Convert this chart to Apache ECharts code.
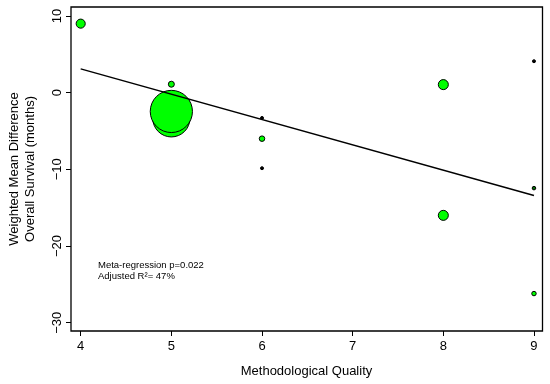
<!DOCTYPE html>
<html>
<head>
<meta charset="utf-8">
<script src="https://cdn.jsdelivr.net/npm/echarts@6/dist/echarts.min.js"></script>
<style>html,body{margin:0;padding:0;background:#fff;}#c{width:550px;height:384px;}</style>
</head>
<body>
<div id="c"></div>
<script>
// Data
const quality = [4, 5, 5, 5, 5, 6, 6, 6, 8, 8, 9, 9, 9];
const wmd = [9.0, 1.1, -0.65, -3.35, -2.45, -3.3, -6.0, -9.85, 1.05, -16.0, 4.1, -12.45, -26.2];
const weights = [2.3, 1.0, 0.7, 38.4, 49.5, 0.25, 0.85, 0.25, 2.8, 2.8, 0.25, 0.35, 0.55];
const fitX = [4, 9];
const fitY = [3.1, -13.4];
const xTickRange = [4, 9, 1];     // first, last, step of x tick labels
const yTickRange = [-30, 10, 10]; // first, last, step of y tick labels
const xTitle = 'Methodological Quality';
const yTitle = ['Weighted Mean Difference', 'Overall Survival (months)'];
const annotation = ['Meta-regression p=0.022', 'Adjusted R\u00B2= 47%'];

const font = 'Liberation Sans, Arial, Helvetica, sans-serif';
const pts = quality.map((q, i) => {
  const d = {value: [q, wmd[i], weights[i]]};
  if (i === 2) d.itemStyle = {color: 'rgba(255,255,255,0)', borderColor: '#4f7fa8', borderWidth: 1};
  else if (weights[i] < 0.3) d.itemStyle = {color: '#000', borderColor: '#000', borderWidth: 1};
  else if (weights[i] < 0.4) d.itemStyle = {color: '#0a6a0a', borderColor: '#000', borderWidth: 1};
  return d;
});

// plot-region extent (data range of the framed box)
const xExt = [3.893, 9.094];
const yExt = [-31.08, 11.17];
const G = {left: 71, right: 7.5, top: 7, bottom: 53};
const W = 550 - G.left - G.right, H = 384 - G.top - G.bottom;
const px = v => G.left + (v - xExt[0]) / (xExt[1] - xExt[0]) * W;
const py = v => G.top + (yExt[1] - v) / (yExt[1] - yExt[0]) * H;

const hiddenAxis = {type: 'value', show: false};
const chart = echarts.init(document.getElementById('c'), null, {renderer: 'canvas'});
chart.setOption({
  animation: false,
  backgroundColor: '#fff',
  grid: [
    {left: G.left, right: G.right, top: G.top, bottom: G.bottom, show: true, borderColor: '#000', borderWidth: 1.3, backgroundColor: 'transparent'},
    // grid for x ticks: spans first..last tick
    {left: px(xTickRange[0]), right: 550 - px(xTickRange[1]), top: G.top, bottom: G.bottom},
    // grid for y ticks
    {left: G.left, right: G.right, top: py(yTickRange[1]), bottom: 384 - py(yTickRange[0])}
  ],
  xAxis: [
    {type: 'value', gridIndex: 0, min: xExt[0], max: xExt[1], show: false},
    {type: 'value', gridIndex: 1, min: xTickRange[0], max: xTickRange[1], interval: xTickRange[2],
      axisLine: {show: false, onZero: false}, splitLine: {show: false},
      axisTick: {show: true, length: 5, lineStyle: {color: '#000'}},
      axisLabel: {color: '#000', fontSize: 13, fontFamily: font, margin: 9}},
    Object.assign({gridIndex: 2}, hiddenAxis)
  ],
  yAxis: [
    {type: 'value', gridIndex: 0, min: yExt[0], max: yExt[1], show: false},
    Object.assign({gridIndex: 1}, hiddenAxis),
    {type: 'value', gridIndex: 2, min: yTickRange[0], max: yTickRange[1], interval: yTickRange[2],
      axisLine: {show: false, onZero: false}, splitLine: {show: false},
      axisTick: {show: true, length: 5, lineStyle: {color: '#000'}},
      axisLabel: {color: '#000', fontSize: 13, fontFamily: font, rotate: 90, margin: 7,
        formatter: v => String(v).replace('-', '\u2212')}}
  ],
  series: [
    {
      type: 'scatter', xAxisIndex: 0, yAxisIndex: 0,
      data: pts,
      symbol: 'circle',
      symbolSize: v => Math.sqrt(v[2]) * 6,
      itemStyle: {color: '#00ff00', borderColor: '#000', borderWidth: 1, opacity: 1},
      z: 2
    },
    {
      type: 'line', xAxisIndex: 0, yAxisIndex: 0,
      data: fitX.map((x, i) => [x, fitY[i]]),
      showSymbol: false,
      lineStyle: {color: '#000', width: 1.5},
      z: 3
    }
  ],
  graphic: [
    {type: 'text', left: 98, top: 260, z: 10,
     style: {text: annotation.join('\n'), font: '9.5px ' + font, fill: '#000', lineHeight: 11}},
    {type: 'text', x: 306.5, y: 371, z: 10,
     style: {text: xTitle, font: '13px ' + font, fill: '#000', align: 'center', verticalAlign: 'middle'}},
    {type: 'text', x: 22, y: 169, rotation: Math.PI / 2, z: 10,
     style: {text: yTitle.join('\n'), font: '13px ' + font, fill: '#000', align: 'center', verticalAlign: 'middle', lineHeight: 16}}
  ]
});
</script>
</body>
</html>
